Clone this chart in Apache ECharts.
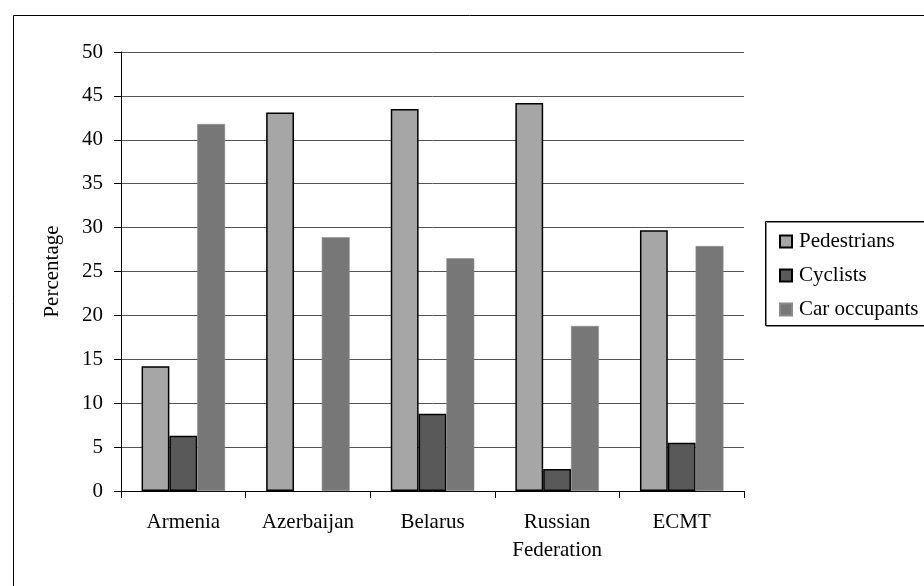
<!DOCTYPE html>
<html><head><meta charset="utf-8">
<script src="https://cdn.jsdelivr.net/npm/echarts@6/dist/echarts.min.js"></script>
<style>html,body{margin:0;padding:0;background:#fff}#c{width:924px;height:586px}</style>
</head><body><div id="c"></div>
<script>
const categories = ['Armenia', 'Azerbaijan', 'Belarus', 'Russian\nFederation', 'ECMT'];
const pedestrians = [14.2, 43.1, 43.5, 44.2, 29.7];
const cyclists = [6.3, 0, 8.8, 2.5, 5.5];
const carOccupants = [41.8, 28.9, 26.5, 18.8, 27.9];
const seriesNames = ['Pedestrians', 'Cyclists', 'Car occupants'];
const yTicks = {min: 0, max: 50, interval: 5};

const font = '"Liberation Serif", "Times New Roman", serif';
const FS = 21;
// zero-height bars are not drawn in the reference (no border line)
const toItems = arr => arr.map(v => v === 0 ? {value: v, itemStyle: {borderWidth: 0, opacity: 0}} : v);

const chart = echarts.init(document.getElementById('c'), null, {renderer: 'canvas'});
chart.setOption({
  animation: false,
  backgroundColor: '#fff',
  textStyle: {fontFamily: font},
  graphic: [
    {type: 'rect', shape: {x: 13.5, y: 15.5, width: 920, height: 580}, style: {fill: 'none', stroke: '#000', lineWidth: 1}, z: -1},
    {type: 'rect', shape: {x: 765.5, y: 221.5, width: 170, height: 104}, style: {fill: '#fff', stroke: '#000', lineWidth: 1, shadowColor: '#888', shadowOffsetX: 1, shadowOffsetY: 1}, z: 0}
  ],
  grid: {left: 121, right: 180, top: 52, bottom: 95, containLabel: false},
  legend: {
    orient: 'vertical', left: 774, top: 226, itemWidth: 12, itemHeight: 12, itemGap: 13,
    icon: 'rect',
    textStyle: {fontFamily: font, fontSize: FS, color: '#000', padding: [0, 0, 0, 2]},
    data: seriesNames, z: 5
  },
  xAxis: {
    type: 'category', data: categories,
    axisLine: {lineStyle: {color: '#000', width: 1}},
    axisTick: {show: true, length: 7, lineStyle: {color: '#000'}},
    axisLabel: {fontFamily: font, fontSize: FS, color: '#000', margin: 17, lineHeight: 28},
    boundaryGap: true
  },
  yAxis: {
    type: 'value', min: yTicks.min, max: yTicks.max, interval: yTicks.interval,
    name: 'Percentage', nameLocation: 'middle', nameGap: 58, nameRotate: 90,
    nameTextStyle: {fontFamily: font, fontSize: FS, color: '#000'},
    axisLine: {show: true, lineStyle: {color: '#000', width: 1}},
    axisTick: {show: true, length: 7, lineStyle: {color: '#000'}},
    axisLabel: {fontFamily: font, fontSize: FS, color: '#000', margin: 18},
    splitLine: {show: true, lineStyle: {color: '#555', width: 1}}
  },
  series: [
    {name: seriesNames[0], type: 'bar', data: toItems(pedestrians), barGap: '0%', barCategoryGap: '33%',
     itemStyle: {color: '#a6a6a6', borderColor: '#000', borderWidth: 1.5}},
    {name: seriesNames[1], type: 'bar', data: toItems(cyclists),
     itemStyle: {color: '#595959', borderColor: '#000', borderWidth: 1.5}},
    {name: seriesNames[2], type: 'bar', data: toItems(carOccupants),
     itemStyle: {color: '#777777', borderColor: '#8a8a8a', borderWidth: 0.5}}
  ]
});
</script></body></html>
